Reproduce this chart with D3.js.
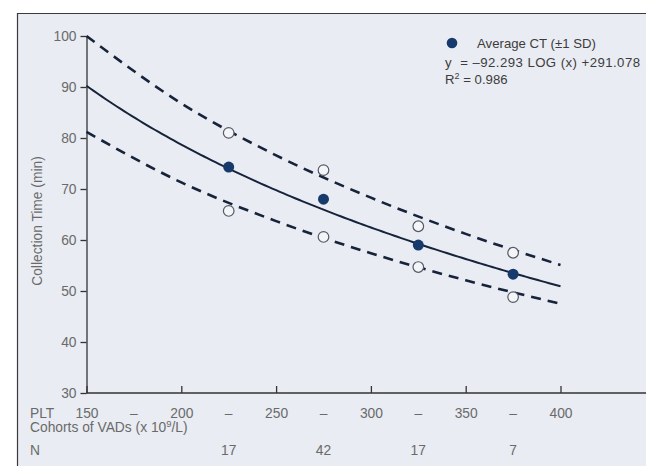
<!DOCTYPE html>
<html>
<head>
<meta charset="utf-8">
<script src="https://cdn.jsdelivr.net/npm/d3@7"></script>
<style>
  html, body { margin: 0; padding: 0; background: #ffffff; }
  svg { display: block; }
  text { font-family: "Liberation Sans", Arial, Helvetica, sans-serif; }
</style>
</head>
<body>
<svg id="chart" width="646" height="466"></svg>
<script>
// Platelet cohort midpoints (x 10^9/L) and collection time statistics (min)
const pltMid   = [225, 275, 325, 375];
const meanCT   = [74.3, 68.0, 59.0, 53.3];
const upperSD  = [81.0, 73.7, 62.7, 57.5];
const lowerSD  = [65.7, 60.6, 54.7, 48.8];
const cohortN  = [17, 42, 17, 7];

// Dashed ±1 SD envelope, read at each PLT boundary
const bandPLT   = [150, 200, 250, 300, 350, 400];
const bandUpper = [100.0, 86.8, 76.6, 68.3, 61.2, 55.1];
const bandLower = [81.2, 71.3, 63.7, 57.4, 52.1, 47.5];

// Fitted curve: y = a * LOG(x) + b
const fitA = -92.293;
const fitB = 291.078;
const fitR2 = 0.986;

// Axis ticks
const xTicks = [150, 200, 250, 300, 350, 400];
const yTicks = [30, 40, 50, 60, 70, 80, 90, 100];

const svg = d3.select("#chart");
const fontSize = 13.8;

// Panel background with top and left rules
svg.append("rect")
  .attr("x", 17.5).attr("y", 13.5)
  .attr("width", 660).attr("height", 470)
  .attr("fill", "#e9ecf2");
svg.append("path")
  .attr("d", "M17.5,466 V13.5 H646")
  .attr("fill", "none")
  .attr("stroke", "#3a3a3a")
  .attr("stroke-width", 1.2);

const x = d3.scaleLinear().domain([150, 400]).range([86.5, 560.5]);
const y = d3.scaleLinear().domain([30, 100]).range([393, 36]);

const labelColor = "#6a6a6a";

// Y axis
const yAxis = svg.append("g")
  .attr("transform", "translate(86.5,0)")
  .call(d3.axisLeft(y).tickValues(yTicks).tickSize(6).tickSizeOuter(0).tickPadding(4));
yAxis.select(".domain").attr("stroke", "#333").attr("stroke-width", 1.3);
yAxis.selectAll(".tick line").attr("stroke", "#333").attr("stroke-width", 1.3);
yAxis.selectAll(".tick text")
  .attr("fill", labelColor).attr("font-size", fontSize)
  .attr("font-family", "\"Liberation Sans\", Arial, sans-serif");

// X axis (ticks pointing up into the plot)
const xAxis = svg.append("g")
  .attr("transform", "translate(0,393)")
  .call(d3.axisBottom(x).tickValues(xTicks).tickSize(-7).tickSizeOuter(0).tickPadding(15));
xAxis.select(".domain").remove();
xAxis.selectAll(".tick line").attr("stroke", "#333").attr("stroke-width", 1.3);
xAxis.selectAll(".tick text")
  .attr("fill", labelColor).attr("font-size", fontSize)
  .attr("font-family", "\"Liberation Sans\", Arial, sans-serif");
svg.append("line")
  .attr("x1", 86.5).attr("x2", 646)
  .attr("y1", 393).attr("y2", 393)
  .attr("stroke", "#333").attr("stroke-width", 1.3);

// Row labels under the axis
const rowText = (tx, ty, s) => svg.append("text")
  .attr("x", tx).attr("y", ty)
  .attr("fill", labelColor).attr("font-size", fontSize)
  .text(s);
rowText(30, 418, "PLT");
const cohortLabel = svg.append("text")
  .attr("x", 30).attr("y", 432)
  .attr("fill", labelColor).attr("font-size", fontSize);
cohortLabel.append("tspan").text("Cohorts of VADs (x 10");
cohortLabel.append("tspan").attr("font-size", 9.5).attr("dy", -5).text("9");
cohortLabel.append("tspan").attr("dy", 5).text("/L)");
rowText(30, 455, "N");

// Range dashes between tick labels
svg.append("g").selectAll("text")
  .data(pltMid.concat([175]))
  .join("text")
  .attr("x", d => x(d)).attr("y", 418)
  .attr("text-anchor", "middle")
  .attr("fill", labelColor).attr("font-size", fontSize)
  .text("–");

// N per cohort
svg.append("g").selectAll("text")
  .data(pltMid)
  .join("text")
  .attr("x", d => x(d)).attr("y", 455)
  .attr("text-anchor", "middle")
  .attr("fill", labelColor).attr("font-size", fontSize)
  .text((d, i) => cohortN[i]);

// Y axis title
svg.append("text")
  .attr("transform", "translate(42,221) rotate(-90)")
  .attr("text-anchor", "middle")
  .attr("fill", labelColor).attr("font-size", fontSize)
  .text("Collection Time (min)");

// Dashed SD envelope
const bandLine = d3.line()
  .x((d, i) => x(bandPLT[i]))
  .y(d => y(d))
  .curve(d3.curveMonotoneX);
[bandUpper, bandLower].forEach(arr => {
  svg.append("path")
    .attr("d", bandLine(arr))
    .attr("fill", "none")
    .attr("stroke", "#17233a")
    .attr("stroke-width", 2.6)
    .attr("stroke-dasharray", "10,7");
});

// Fitted regression curve
const fitX = d3.range(150, 400.01, 2);
const fitLine = d3.line()
  .x(d => x(d))
  .y(d => y(fitA * Math.log10(d) + fitB));
svg.append("path")
  .attr("d", fitLine(fitX))
  .attr("fill", "none")
  .attr("stroke", "#17233a")
  .attr("stroke-width", 2);

// ±1 SD markers
svg.append("g").selectAll("circle")
  .data(pltMid.flatMap((p, i) => [[p, upperSD[i]], [p, lowerSD[i]]]))
  .join("circle")
  .attr("cx", d => x(d[0])).attr("cy", d => y(d[1]))
  .attr("r", 5.3)
  .attr("fill", "#f4f5f8")
  .attr("stroke", "#555a66")
  .attr("stroke-width", 1.2);

// Mean markers
svg.append("g").selectAll("circle")
  .data(pltMid.map((p, i) => [p, meanCT[i]]))
  .join("circle")
  .attr("cx", d => x(d[0])).attr("cy", d => y(d[1]))
  .attr("r", 5.5)
  .attr("fill", "#173a6c");

// Legend and fit equation
svg.append("circle")
  .attr("cx", 452).attr("cy", 43).attr("r", 5.3)
  .attr("fill", "#173a6c");
const legColor = "#3c3c3c";
svg.append("text")
  .attr("x", 477).attr("y", 47.5)
  .attr("fill", legColor).attr("font-size", 13.2)
  .text("Average CT (±1 SD)");
svg.append("text")
  .attr("x", 445).attr("y", 67)
  .attr("fill", legColor).attr("font-size", 13.2)
  .attr("xml:space", "preserve")
  .attr("textLength", 195)
  .text(`y  = –${Math.abs(fitA).toFixed(3)} LOG (x) +${fitB.toFixed(3)}`);
const r2 = svg.append("text")
  .attr("x", 445).attr("y", 83.5)
  .attr("fill", legColor).attr("font-size", 13.2);
r2.append("tspan").text("R");
r2.append("tspan").attr("font-size", 9).attr("dy", -5).text("2");
r2.append("tspan").attr("dy", 5).text(` = ${fitR2.toFixed(3)}`);
</script>
</body>
</html>
